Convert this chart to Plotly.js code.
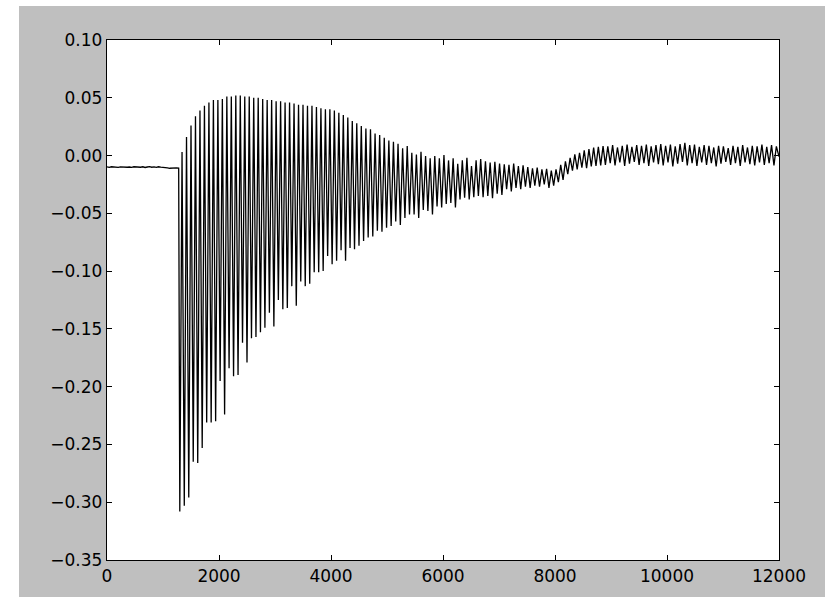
<!DOCTYPE html>
<html>
<head>
<meta charset="utf-8">
<script src="https://cdn.plot.ly/plotly-3.0.1.min.js"></script>
<style>
  html, body { margin: 0; padding: 0; background: #ffffff; width: 825px; height: 597px; overflow: hidden; }
  #chart { position: absolute; left: 19px; top: 6px; width: 806px; height: 591px; }
</style>
</head>
<body>
<div id="chart"></div>
<script>
// Flat baseline before the oscillation starts
const baseT = [0, 40, 80, 120, 160, 200, 240, 280, 320, 360, 400, 440, 480, 520, 560, 600, 640, 680, 720, 760, 800, 840, 880, 920, 960, 1000, 1040, 1080, 1120, 1160, 1200, 1240, 1280];
const baseV = [-0.0098, -0.0102, -0.0097, -0.0101, -0.0099, -0.0103, -0.0098, -0.0100, -0.0096, -0.0101, -0.0099, -0.0102, -0.0097, -0.0100, -0.0098, -0.0101, -0.0097, -0.0103, -0.0099, -0.0096, -0.0101, -0.0098, -0.0102, -0.0097, -0.0100, -0.0104, -0.0109, -0.0107, -0.0110, -0.0108, -0.0111, -0.0107, -0.0109];

// Trough (minimum) of each cycle
const troughT = [1300,1380,1460,1540,1620,1700,1780,1860,1940,2020,2100,2180,2260,2340,2420,2500,2580,2660,2740,2820,2900,2980,3060,3140,3220,3300,3380,3460,3540,3620,3700,3780,3860,3940,4020,4100,4180,4260,4340,4420,
  4500,4582,4664,4746,4828,4910,4992,5074,5156,5238,5320,5402,5484,5566,5648,5730,5812,5894,5976,6058,6140,6222,6304,6386,6468,6550,6632,
  6716,6800,6884,6968,7052,7136,7220,7304,7388,7472,7556,7640,7724,7808,7892,7976,8060,8144,8228,8312,8396,8480,8564,8648,8732,8816,
  8900,8986,9072,9158,9244,9330,9416,9502,9588,9674,9760,9846,9932,10018,10104,10190,10276,10362,10448,10534,10620,10706,10792,10878,10964,11050,11136,11222,11308,11394,11480,11566,11652,11738,11824,11910];
const troughV = [-0.308,-0.303,-0.296,-0.265,-0.266,-0.253,-0.231,-0.231,-0.230,-0.195,-0.224,-0.184,-0.191,-0.190,-0.162,-0.179,-0.158,-0.157,-0.153,-0.149,-0.136,-0.148,-0.125,-0.133,-0.132,-0.113,-0.130,-0.109,-0.113,-0.111,-0.101,-0.101,-0.100,-0.087,-0.094,-0.091,-0.082,-0.091,-0.080,-0.081,
  -0.078,-0.074,-0.071,-0.070,-0.065,-0.066,-0.0625,-0.061,-0.057,-0.060,-0.054,-0.051,-0.051,-0.054,-0.047,-0.048,-0.051,-0.044,-0.045,-0.042,-0.041,-0.045,-0.038,-0.0365,-0.038,-0.036,-0.035,
  -0.036,-0.035,-0.037,-0.033,-0.034,-0.029,-0.031,-0.028,-0.029,-0.027,-0.028,-0.026,-0.027,-0.025,-0.028,-0.026,-0.023,-0.021,-0.016,-0.013,-0.012,-0.0105,-0.011,-0.0095,-0.009,-0.0085,
  -0.008,-0.0065,-0.0085,-0.006,-0.009,-0.007,-0.0055,-0.008,-0.0065,-0.009,-0.006,-0.0075,-0.0085,-0.006,-0.0095,-0.007,-0.0055,-0.0085,-0.0065,-0.009,-0.006,-0.008,-0.0065,-0.0095,-0.007,-0.0055,-0.008,-0.0065,-0.009,-0.006,-0.0075,-0.0085,-0.006,-0.008,-0.0065,-0.0085];

// Peak (maximum) of each cycle
const peakT = [1340,1420,1500,1580,1660,1740,1820,1900,1980,2060,2140,2220,2300,2380,2460,2540,2620,2700,2780,2860,2940,3020,3100,3180,3260,3340,3420,3500,3580,3660,3740,3820,3900,3980,4060,4140,4220,4300,4380,4460,
  4541,4623,4705,4787,4869,4951,5033,5115,5197,5279,5361,5443,5525,5607,5689,5771,5853,5935,6017,6099,6181,6263,6345,6427,6509,6591,6673,
  6758,6842,6926,7010,7094,7178,7262,7346,7430,7514,7598,7682,7766,7850,7934,8018,8102,8186,8270,8354,8438,8522,8606,8690,8774,8858,
  8943,9029,9115,9201,9287,9373,9459,9545,9631,9717,9803,9889,9975,10061,10147,10233,10319,10405,10491,10577,10663,10749,10835,10921,11007,11093,11179,11265,11351,11437,11523,11609,11695,11781,11867,11953];
const peakV = [0.003,0.016,0.026,0.034,0.039,0.043,0.046,0.048,0.048,0.049,0.051,0.051,0.052,0.052,0.051,0.051,0.050,0.050,0.049,0.048,0.048,0.047,0.047,0.046,0.046,0.045,0.044,0.044,0.043,0.043,0.042,0.041,0.040,0.040,0.039,0.037,0.035,0.033,0.030,0.028,
  0.0255,0.0235,0.0227,0.019,0.0177,0.0154,0.013,0.012,0.0102,0.0062,0.0082,0.0024,0.001,0.0033,-0.0004,-0.0024,-0.0004,-0.0024,0.0004,-0.0042,-0.0024,-0.0071,-0.0042,-0.0019,-0.009,-0.0042,-0.003,
  -0.005,-0.006,-0.0055,-0.007,-0.0075,-0.008,-0.007,-0.009,-0.0085,-0.010,-0.011,-0.0105,-0.012,-0.0115,-0.013,-0.012,-0.008,-0.005,-0.002,0.001,0.0024,0.0045,0.0055,0.0068,0.0075,0.0082,
  0.008,0.009,0.007,0.0085,0.0095,0.0075,0.009,0.0085,0.0095,0.008,0.009,0.010,0.0085,0.0095,0.008,0.010,0.011,0.009,0.0095,0.0075,0.009,0.0085,0.007,0.0085,0.008,0.0065,0.0085,0.0075,0.009,0.007,0.0085,0.008,0.0095,0.0075,0.009,0.008];

const endT = [12000];
const endV = [-0.001];

const xTickVals = [0, 2000, 4000, 6000, 8000, 10000, 12000];
const xTickText = ["0", "2000", "4000", "6000", "8000", "10000", "12000"];
const yTickVals = [0.10, 0.05, 0.00, -0.05, -0.10, -0.15, -0.20, -0.25, -0.30, -0.35];
const yTickText = ["0.10", "0.05", "0.00", "\u22120.05", "\u22120.10", "\u22120.15", "\u22120.20", "\u22120.25", "\u22120.30", "\u22120.35"];

// assemble the trace from the read values
const xs = baseT.slice();
const ys = baseV.slice();
for (let i = 0; i < troughT.length; i++) {
  xs.push(troughT[i]); ys.push(troughV[i]);
  xs.push(peakT[i]); ys.push(peakV[i]);
}
xs.push(...endT); ys.push(...endV);

const trace = {
  x: xs, y: ys, type: 'scatter', mode: 'lines',
  line: { color: '#000000', width: 1.3 },
  hoverinfo: 'skip'
};

const axisFont = { family: 'DejaVu Sans, sans-serif', size: 17, color: '#000000' };

const layout = {
  width: 806, height: 591,
  margin: { l: 88, r: 46, t: 34, b: 37, pad: 0 },
  paper_bgcolor: '#bfbfbf',
  plot_bgcolor: '#ffffff',
  showlegend: false,
  xaxis: {
    range: [0, 12000], autorange: false,
    tickmode: 'array', tickvals: xTickVals, ticktext: xTickText,
    ticks: 'inside', ticklen: 5, tickwidth: 1, tickcolor: '#000000',
    showline: true, linecolor: '#000000', linewidth: 1.2, mirror: 'ticks',
    showgrid: false, zeroline: false,
    tickfont: axisFont
  },
  yaxis: {
    range: [-0.35, 0.10], autorange: false,
    tickmode: 'array', tickvals: yTickVals, ticktext: yTickText,
    ticks: 'inside', ticklen: 5, tickwidth: 1, tickcolor: '#000000',
    showline: true, linecolor: '#000000', linewidth: 1.2, mirror: 'ticks',
    showgrid: false, zeroline: false,
    tickfont: axisFont
  }
};

Plotly.newPlot('chart', [trace], layout, { staticPlot: true, displayModeBar: false });
</script>
</body>
</html>
